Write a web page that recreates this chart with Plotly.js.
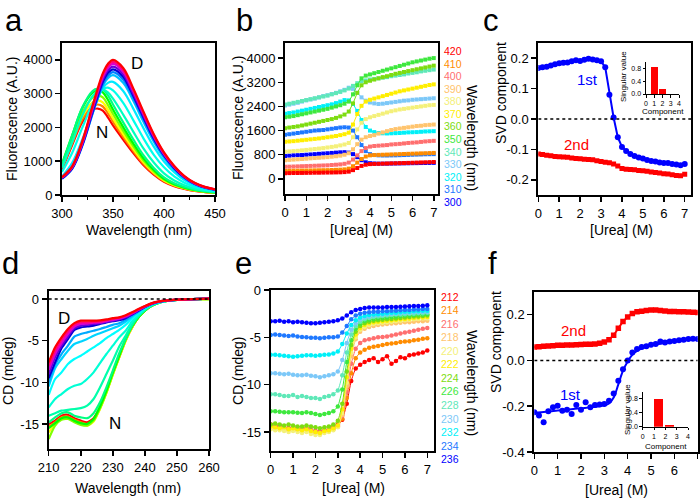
<!DOCTYPE html>
<html><head><meta charset="utf-8">
<script src="https://cdn.plot.ly/plotly-3.0.1.min.js"></script>
<style>html,body{margin:0;padding:0;background:#fff}#chart{width:700px;height:499px}</style>
</head><body><div id="chart"></div><script>
// ---------- Panel a: fluorescence spectra ----------
const aWavelengths = [300,310,320,330,335,340,345,350,360,370,380,390,400,410,420,430,440,450];
const aUrea = [0,0.6,1.2,1.8,2.4,3.0,3.3,3.5,3.7,3.9,4.2,4.8,5.4,6.0,6.6,7.2];
const aSpectra = [
 [750,1480,2160,2520,2560,2500,2300,2060,1640,1240,880,600,390,260,180,120,85,60],
 [790,1540,2240,2620,2680,2620,2420,2170,1720,1300,920,630,410,275,190,128,90,63],
 [830,1600,2330,2740,2800,2740,2530,2270,1800,1360,965,660,430,290,200,135,95,66],
 [870,1680,2450,2880,2950,2890,2670,2400,1900,1440,1020,700,455,305,210,142,100,70],
 [920,1770,2580,3030,3100,3040,2820,2530,2010,1520,1080,740,480,320,220,150,105,74],
 [900,1760,2600,3080,3150,3120,2950,2680,2150,1640,1170,800,520,345,235,160,112,78],
 [810,1560,2360,2930,3070,3130,3040,2850,2380,1870,1370,960,640,430,290,190,130,92],
 [680,1250,2000,2710,2960,3140,3180,3100,2730,2210,1670,1190,820,550,365,240,160,114],
 [550,950,1650,2480,2850,3160,3320,3350,3080,2550,1970,1430,990,675,440,285,190,136],
 [500,815,1500,2420,2850,3230,3460,3550,3320,2780,2160,1580,1100,750,490,315,210,150],
 [480,775,1460,2410,2870,3280,3530,3640,3420,2870,2240,1640,1150,780,510,330,218,155],
 [490,790,1490,2470,2930,3350,3610,3720,3500,2930,2290,1670,1170,800,520,335,223,158],
 [505,810,1520,2520,2990,3420,3690,3800,3570,2990,2340,1710,1200,820,530,340,228,162],
 [515,825,1550,2570,3060,3490,3760,3880,3650,3060,2390,1750,1220,835,545,350,233,165],
 [520,840,1580,2610,3100,3550,3820,3940,3700,3100,2420,1770,1240,850,550,355,236,167],
 [530,850,1600,2650,3150,3600,3880,4000,3760,3150,2460,1800,1260,860,560,360,240,170]
];

// ---------- Panel b: fluorescence vs urea ----------
const urea = [0,0.2,0.4,0.6,0.8,1.0,1.2,1.4,1.6,1.8,2.0,2.2,2.4,2.6,2.8,3.0,3.2,3.4,3.6,3.8,4.0,4.2,4.4,4.6,4.8,5.0,5.2,5.4,5.6,5.8,6.0,6.2,6.4,6.6,6.8,7.0];
const fl420 = [190,192,195,195,198,200,202,205,205,208,210,212,215,218,225,240,290,360,430,470,490,495,500,505,510,515,518,522,525,530,535,540,545,550,555,560];
const fl410 = [265,268,270,272,275,278,280,283,285,288,290,295,300,305,315,340,420,540,660,740,780,790,795,800,805,810,815,820,825,830,835,840,845,850,855,860];
const fl400 = [400,405,410,415,420,425,430,435,440,445,450,460,470,480,500,540,640,780,920,1020,1070,1090,1100,1110,1120,1140,1150,1160,1175,1190,1200,1210,1225,1240,1250,1260];
const fl390 = [620,630,640,650,660,670,680,690,700,710,720,735,750,770,800,850,980,1150,1300,1380,1420,1450,1500,1540,1580,1620,1650,1670,1690,1710,1730,1750,1760,1780,1790,1800];
const fl380 = [900,910,920,930,945,960,975,990,1005,1020,1040,1060,1080,1110,1140,1190,1380,1640,1860,1980,2040,2080,2120,2160,2200,2240,2270,2300,2320,2340,2360,2380,2400,2420,2440,2450];
const fl370 = [1230,1240,1250,1265,1280,1295,1310,1325,1340,1360,1380,1400,1420,1450,1480,1530,1800,2150,2420,2560,2620,2660,2700,2740,2780,2820,2860,2900,2930,2960,2990,3020,3050,3080,3110,3130];
const fl360 = [1680,1700,1720,1740,1770,1800,1830,1860,1890,1920,1950,1980,2020,2070,2130,2230,2500,2850,3100,3200,3250,3290,3330,3370,3400,3440,3480,3510,3540,3570,3600,3630,3660,3690,3720,3750];
const fl350 = [2040,2060,2080,2110,2140,2170,2200,2230,2260,2290,2320,2360,2400,2440,2490,2560,2800,3100,3330,3420,3460,3500,3540,3580,3620,3660,3700,3740,3780,3820,3860,3890,3920,3950,3980,4000];
const fl340 = [2460,2490,2520,2550,2580,2610,2640,2670,2700,2730,2760,2800,2840,2880,2930,2990,3080,3170,3230,3260,3290,3310,3330,3350,3370,3400,3420,3440,3460,3490,3510,3530,3560,3580,3600,3620];
const fl330 = [2430,2460,2490,2520,2560,2600,2630,2660,2700,2740,2770,2810,2850,2900,2950,3020,2980,2850,2700,2590,2530,2500,2480,2490,2510,2530,2550,2570,2590,2600,2620,2630,2640,2650,2660,2670];
const fl320 = [2160,2180,2200,2230,2260,2290,2320,2350,2380,2410,2440,2470,2510,2560,2610,2600,2480,2250,1950,1720,1600,1550,1520,1510,1505,1510,1515,1520,1530,1540,1545,1550,1560,1570,1575,1580];
const fl310 = [1460,1480,1500,1520,1540,1560,1580,1600,1610,1620,1640,1660,1680,1700,1710,1700,1600,1380,1120,920,820,790,780,775,775,778,780,785,790,795,800,805,810,815,818,820];
const fl300 = [760,770,780,785,790,800,810,820,830,840,850,860,870,880,885,870,820,720,620,550,520,510,505,505,505,508,510,512,515,517,520,522,525,527,528,530];
const bLabels = ['420','410','400','390','380','370','360','350','340','330','320','310','300'];

// ---------- Panel c: SVD components (fluorescence) ----------
const c1st = [0.168,0.170,0.172,0.176,0.180,0.183,0.185,0.186,0.190,0.193,0.191,0.195,0.198,0.196,0.193,0.190,0.170,0.080,0.005,-0.060,-0.092,-0.105,-0.115,-0.122,-0.127,-0.130,-0.135,-0.138,-0.140,-0.143,-0.145,-0.145,-0.148,-0.150,-0.152,-0.148];
const c2nd = [-0.115,-0.117,-0.119,-0.121,-0.123,-0.124,-0.125,-0.126,-0.128,-0.130,-0.131,-0.132,-0.133,-0.134,-0.137,-0.140,-0.142,-0.144,-0.148,-0.155,-0.163,-0.165,-0.166,-0.167,-0.169,-0.170,-0.172,-0.174,-0.176,-0.178,-0.180,-0.181,-0.183,-0.186,-0.187,-0.182];
const components = [1,2,3,4];
const cSingular = [0.83,0.16,0.01,0.005];

// ---------- Panel d: CD spectra ----------
const dWavelengths = [210,212,214,216,218,220,222,224,226,228,230,232,234,236,238,240,242,244,246,248,250,255,260];
const dUrea = [0,0.6,1.2,1.8,2.4,3.0,3.2,3.4,3.6,3.8,4.0,4.8,5.4,6.0,6.6,7.2];
const dSpectra = [
 [-15.0,-14.6,-14.0,-13.9,-14.3,-14.6,-14.8,-14.3,-13.0,-11.1,-8.9,-6.9,-4.9,-3.4,-2.2,-1.4,-0.85,-0.5,-0.3,-0.18,-0.1,0.0,0.1],
 [-15.3,-14.8,-14.2,-14.1,-14.5,-14.8,-15.0,-14.5,-13.1,-11.2,-9.0,-7.0,-5.0,-3.4,-2.2,-1.4,-0.85,-0.5,-0.3,-0.18,-0.1,0.0,0.05],
 [-16.0,-15.0,-14.4,-14.3,-14.7,-15.0,-15.2,-14.7,-13.2,-11.3,-9.1,-7.0,-5.0,-3.4,-2.2,-1.4,-0.85,-0.5,-0.3,-0.18,-0.1,-0.05,0.0],
 [-16.8,-15.2,-14.5,-14.4,-14.8,-15.1,-15.2,-14.6,-13.1,-11.2,-9.0,-6.9,-4.9,-3.3,-2.2,-1.4,-0.85,-0.5,-0.3,-0.18,-0.1,-0.05,-0.05],
 [-15.5,-14.9,-14.3,-14.2,-14.6,-14.9,-15.0,-14.4,-12.9,-11.0,-8.8,-6.8,-4.8,-3.3,-2.2,-1.4,-0.85,-0.5,-0.3,-0.18,-0.1,0.0,0.05],
 [-14.8,-14.2,-13.7,-13.6,-14.0,-14.2,-14.3,-13.7,-12.4,-10.6,-8.6,-6.5,-4.8,-3.2,-2.1,-1.35,-0.8,-0.5,-0.3,-0.18,-0.1,0.0,0.05],
 [-14.0,-13.7,-13.4,-13.3,-13.2,-13.1,-12.8,-12.0,-10.6,-9.0,-7.4,-5.7,-4.4,-3.0,-2.0,-1.3,-0.8,-0.5,-0.3,-0.18,-0.1,0.0,0.05],
 [-13.0,-12.0,-11.4,-10.8,-10.4,-10.2,-9.6,-8.8,-7.7,-6.6,-5.6,-4.6,-3.8,-2.7,-1.9,-1.2,-0.75,-0.45,-0.28,-0.17,-0.1,0.0,0.05],
 [-11.5,-9.6,-8.8,-7.8,-7.2,-6.8,-6.3,-5.8,-5.3,-4.7,-4.2,-3.7,-3.1,-2.35,-1.7,-1.1,-0.7,-0.42,-0.26,-0.16,-0.1,0.0,0.05],
 [-10.5,-8.3,-7.2,-6.2,-5.4,-5.1,-4.8,-4.4,-4.1,-3.8,-3.5,-3.2,-2.7,-2.1,-1.55,-1.0,-0.65,-0.4,-0.25,-0.15,-0.1,0.0,0.05],
 [-10.0,-7.9,-6.6,-5.6,-4.5,-4.2,-4.0,-3.8,-3.6,-3.35,-3.1,-2.9,-2.5,-2.0,-1.5,-1.0,-0.62,-0.38,-0.24,-0.15,-0.1,0.0,0.05],
 [-9.5,-7.6,-5.9,-4.8,-3.7,-3.4,-3.3,-3.2,-3.0,-2.8,-2.65,-2.55,-2.3,-1.85,-1.4,-0.95,-0.6,-0.36,-0.22,-0.14,-0.1,0.0,0.05],
 [-9.0,-7.0,-5.6,-4.5,-3.5,-3.2,-3.1,-3.0,-2.9,-2.75,-2.6,-2.45,-2.2,-1.8,-1.35,-0.92,-0.58,-0.35,-0.22,-0.14,-0.1,0.0,0.05],
 [-8.5,-6.6,-5.3,-4.2,-3.3,-3.0,-2.95,-2.85,-2.8,-2.65,-2.5,-2.35,-2.1,-1.72,-1.3,-0.9,-0.56,-0.34,-0.21,-0.13,-0.1,0.0,0.05],
 [-8.0,-6.2,-4.9,-3.9,-3.1,-2.8,-2.8,-2.75,-2.7,-2.55,-2.4,-2.25,-2.0,-1.65,-1.25,-0.88,-0.55,-0.33,-0.2,-0.13,-0.1,0.0,0.05],
 [-7.6,-5.8,-4.6,-3.6,-2.9,-2.6,-2.6,-2.6,-2.55,-2.45,-2.3,-2.2,-1.95,-1.6,-1.2,-0.85,-0.52,-0.32,-0.2,-0.12,-0.08,0.0,0.05]
];

// ---------- Panel e: CD vs urea ----------
const cd236 = [-3.3,-3.3,-3.25,-3.35,-3.3,-3.4,-3.35,-3.4,-3.45,-3.5,-3.5,-3.45,-3.4,-3.35,-3.3,-3.2,-3.0,-2.7,-2.35,-2.1,-2.0,-1.9,-1.85,-1.85,-1.85,-1.85,-1.8,-1.8,-1.8,-1.78,-1.75,-1.72,-1.7,-1.68,-1.65,-1.6];
const cd234 = [-4.75,-4.7,-4.75,-4.8,-4.85,-4.8,-4.9,-4.95,-5.0,-5.05,-5.05,-5.1,-5.05,-5.0,-5.0,-4.9,-4.5,-3.8,-3.1,-2.7,-2.5,-2.4,-2.35,-2.3,-2.3,-2.25,-2.25,-2.2,-2.2,-2.15,-2.1,-2.1,-2.05,-2.05,-2.0,-2.0];
const cd232 = [-6.85,-6.85,-6.9,-6.95,-7.0,-7.05,-7.0,-6.95,-6.9,-6.9,-6.95,-6.9,-6.85,-6.8,-6.7,-6.5,-5.7,-4.6,-3.7,-3.2,-2.9,-2.75,-2.65,-2.6,-2.55,-2.5,-2.45,-2.4,-2.4,-2.35,-2.3,-2.3,-2.25,-2.25,-2.2,-2.2];
const cd230 = [-8.8,-8.8,-8.85,-8.9,-8.85,-8.95,-9.0,-9.0,-8.95,-9.05,-9.1,-9.2,-9.1,-9.0,-8.9,-8.6,-7.4,-5.6,-4.2,-3.5,-3.1,-2.9,-2.8,-2.7,-2.65,-2.6,-2.55,-2.5,-2.5,-2.45,-2.4,-2.4,-2.35,-2.35,-2.3,-2.3];
const cd228 = [-11.0,-11.0,-11.1,-11.2,-11.2,-11.1,-11.3,-11.2,-11.3,-11.4,-11.4,-11.5,-11.3,-11.2,-11.0,-10.6,-9.0,-6.6,-4.7,-3.8,-3.35,-3.1,-2.95,-2.85,-2.8,-2.75,-2.7,-2.65,-2.6,-2.6,-2.55,-2.5,-2.5,-2.45,-2.45,-2.4];
const cd226 = [-12.8,-12.8,-12.85,-12.9,-12.9,-12.9,-12.95,-13.0,-12.9,-13.0,-13.1,-13.2,-13.1,-13.0,-12.8,-12.3,-10.5,-7.6,-5.3,-4.1,-3.6,-3.3,-3.15,-3.05,-3.0,-2.95,-2.9,-2.85,-2.8,-2.75,-2.7,-2.7,-2.65,-2.6,-2.6,-2.55];
const cd224 = [-14.2,-14.1,-14.2,-14.3,-14.2,-14.3,-14.4,-14.4,-14.3,-14.4,-14.5,-14.6,-14.5,-14.4,-14.2,-13.8,-12.0,-8.6,-5.8,-4.4,-3.8,-3.5,-3.35,-3.25,-3.2,-3.15,-3.1,-3.05,-3.0,-2.95,-2.9,-2.85,-2.8,-2.8,-2.75,-2.7];
const cd222 = [-14.4,-14.5,-14.6,-14.5,-14.7,-14.6,-14.7,-14.8,-14.7,-14.9,-15.0,-15.1,-14.9,-14.8,-14.6,-14.3,-12.6,-9.2,-6.2,-4.7,-4.0,-3.7,-3.5,-3.4,-3.35,-3.3,-3.25,-3.2,-3.15,-3.1,-3.05,-3.0,-2.95,-2.9,-2.9,-2.85];
const cd220 = [-14.7,-14.8,-14.8,-14.9,-15.0,-14.9,-15.0,-15.1,-15.0,-15.2,-15.3,-15.3,-15.1,-15.0,-14.8,-14.5,-13.0,-9.8,-6.6,-5.0,-4.2,-3.9,-3.7,-3.6,-3.5,-3.45,-3.4,-3.35,-3.3,-3.25,-3.2,-3.15,-3.1,-3.05,-3.0,-3.0];
const cd218 = [-14.5,-14.6,-14.6,-14.7,-14.8,-14.7,-14.8,-14.9,-14.8,-15.0,-15.1,-15.2,-15.0,-14.9,-14.7,-14.4,-13.2,-10.2,-7.0,-5.2,-4.4,-4.1,-3.9,-3.8,-3.7,-3.65,-3.6,-3.55,-3.5,-3.45,-3.4,-3.4,-3.35,-3.3,-3.3,-3.25];
const cd216 = [-14.3,-14.4,-14.3,-14.5,-14.6,-14.5,-14.6,-14.7,-14.6,-14.8,-14.9,-15.0,-14.8,-14.7,-14.6,-14.3,-13.3,-10.8,-7.8,-6.2,-5.6,-5.3,-5.2,-5.1,-5.0,-4.95,-4.9,-4.8,-4.7,-4.6,-4.5,-4.4,-4.3,-4.2,-4.1,-4.0];
const cd214 = [-14.4,-14.5,-14.4,-14.6,-14.7,-14.6,-14.7,-14.8,-14.7,-14.9,-15.0,-15.1,-14.9,-14.8,-14.7,-14.4,-13.6,-11.4,-8.8,-7.2,-6.6,-6.3,-6.1,-6.0,-5.9,-5.8,-5.7,-5.65,-5.6,-5.5,-5.45,-5.4,-5.3,-5.25,-5.15,-5.1];
const cd212 = [-14.2,-14.4,-14.3,-14.5,-14.6,-14.5,-14.7,-14.8,-14.6,-14.8,-14.9,-15.0,-14.8,-14.7,-14.5,-14.2,-13.7,-12.0,-9.6,-8.3,-7.9,-7.6,-7.4,-7.2,-7.6,-7.3,-7.0,-7.8,-7.5,-7.1,-7.2,-6.9,-6.8,-6.7,-6.6,-6.4];
const eLabels = ['212','214','216','218','220','222','224','226','228','230','232','234','236'];

// ---------- Panel f: SVD components (CD) ----------
const f1st = [-0.226,-0.241,-0.270,-0.222,-0.205,-0.198,-0.220,-0.216,-0.234,-0.195,-0.216,-0.183,-0.205,-0.195,-0.193,-0.190,-0.176,-0.144,-0.089,-0.039,0.000,0.035,0.050,0.058,0.062,0.068,0.072,0.082,0.078,0.083,0.085,0.088,0.090,0.093,0.095,0.093];
const f2nd = [0.058,0.060,0.062,0.063,0.064,0.066,0.066,0.067,0.067,0.068,0.069,0.070,0.071,0.072,0.075,0.080,0.090,0.110,0.140,0.170,0.190,0.205,0.212,0.215,0.218,0.220,0.220,0.218,0.216,0.214,0.213,0.212,0.212,0.211,0.210,0.209];
const fFitUrea = [0,0.5,1,1.5,2,2.5,3,3.2,3.4,3.6,3.8,4.0,4.2,4.5,5,5.5,6,6.5,7];
const fFit1st = [-0.228,-0.224,-0.219,-0.214,-0.209,-0.204,-0.196,-0.188,-0.162,-0.105,-0.045,-0.005,0.025,0.047,0.065,0.075,0.083,0.089,0.095];
const fSingular = [0.79,0.06,0.005,0.003];

// ---------- tick labels ----------
const svdCTicks = [-0.2,-0.1,0,0.1,0.2], svdCText = ['-0.2','-0.1','0.0','0.1','0.2'];
const svdFTicks = [-0.4,-0.2,0,0.2], svdFText = ['-0.4','-0.2','0.0','0.2'];
const cdTicks = [0,-5,-10,-15], cdText = ['0','-5','-10','-15'];
const insetTicks = [0,0.4,0.8], insetText = ['0.0','0.4','0.8'];

// ================= drawing =================
const FONT = '"Liberation Sans", Arial, sans-serif';
const W = 700, H = 499;
const px = x => x / W, py = y => 1 - y / H;
const hue = u => 'hsl(' + Math.round(u / 7.2 * 360) % 360 + ',100%,' + (u > 4.5 && u < 6.2 ? 42 : 50) + '%)';

const bColors = {'420':'#ff0000','410':'#ff8c00','400':'#ff6f6f','390':'#ffc46e','380':'#f4f07a','370':'#ffee00','360':'#7ddc10','350':'#3ee83e','340':'#5fe8b8','330':'#7cc8f8','320':'#00f0f8','310':'#1e78ff','300':'#0000ff'};
const bData = {'420':fl420,'410':fl410,'400':fl400,'390':fl390,'380':fl380,'370':fl370,'360':fl360,'350':fl350,'340':fl340,'330':fl330,'320':fl320,'310':fl310,'300':fl300};
const eColors = {'212':'#ff0000','214':'#ff8c00','216':'#ff6f6f','218':'#ffc46e','220':'#f4f07a','222':'#ffee00','224':'#7ddc10','226':'#3ee83e','228':'#5fe8b8','230':'#7cc8f8','232':'#00f0f8','234':'#1e78ff','236':'#0000ff'};
const eData = {'212':cd212,'214':cd214,'216':cd216,'218':cd218,'220':cd220,'222':cd222,'224':cd224,'226':cd226,'228':cd228,'230':cd230,'232':cd232,'234':cd234,'236':cd236};

const traces = [];
aSpectra.forEach((s, i) => traces.push({x: aWavelengths, y: s, xaxis:'x', yaxis:'y', mode:'lines', line:{color:hue(aUrea[i]), width:2.2, shape:'spline', smoothing:1}, hoverinfo:'skip'}));
bLabels.slice().reverse().forEach(k => traces.push({x: urea, y: bData[k], xaxis:'x2', yaxis:'y2', mode:'lines+markers', line:{color:bColors[k], width:1}, marker:{symbol:'square', size:4, color:bColors[k]}}));
traces.push({x: urea, y: c2nd, xaxis:'x3', yaxis:'y3', mode:'lines+markers', line:{color:'#ff0000', width:2}, marker:{symbol:'square', size:5, color:'#ff0000'}});
traces.push({x: urea, y: c1st, xaxis:'x3', yaxis:'y3', mode:'lines+markers', line:{color:'#0000ff', width:2}, marker:{symbol:'circle', size:6, color:'#0000ff'}});
traces.push({x: components, y: cSingular, xaxis:'x4', yaxis:'y4', type:'bar', width:0.85, marker:{color:'#ff0000', line:{width:0}}});
dSpectra.forEach((s, i) => traces.push({x: dWavelengths, y: s, xaxis:'x5', yaxis:'y5', mode:'lines', line:{color:hue(dUrea[i]), width:2.2, shape:'spline', smoothing:0.6}}));
eLabels.forEach(k => traces.push({x: urea, y: eData[k], xaxis:'x6', yaxis:'y6', mode:'lines+markers', line:{color:eColors[k], width:1, shape:'spline', smoothing:0.5}, marker:{symbol:'circle', size:4.5, color:eColors[k]}}));
traces.push({x: urea, y: f2nd, xaxis:'x7', yaxis:'y7', mode:'lines+markers', line:{color:'#ff0000', width:2}, marker:{symbol:'square', size:5.5, color:'#ff0000'}});
traces.push({x: fFitUrea, y: fFit1st, xaxis:'x7', yaxis:'y7', mode:'lines', line:{color:'#0000ff', width:2, shape:'spline'}});
traces.push({x: urea, y: f1st, xaxis:'x7', yaxis:'y7', mode:'markers', marker:{symbol:'circle', size:6, color:'#0000ff'}});
traces.push({x: components, y: fSingular, xaxis:'x8', yaxis:'y8', type:'bar', width:0.75, offset:0, marker:{color:'#ff0000', line:{width:0}}});

function axis(domain, range, anchor, extra) {
  return Object.assign({domain, range, anchor, showline:true, linecolor:'#000', linewidth:2, mirror:true,
    ticks:'outside', ticklen:5, tickwidth:1.5, tickcolor:'#000', showgrid:false, zeroline:false,
    tickfont:{size:13, color:'#000', family:FONT}, fixedrange:true}, extra || {});
}
function inset(domain, range, anchor, extra) {
  return Object.assign({domain, range, anchor, showline:true, linecolor:'#000', linewidth:1, mirror:false,
    ticks:'outside', ticklen:2.5, tickwidth:1, tickcolor:'#000', showgrid:false, zeroline:false,
    tickfont:{size:7, color:'#000', family:FONT}, fixedrange:true}, extra || {});
}
const dom = (a, b) => [a / W, b / W];
const domY = (top, bot) => [1 - bot / H, 1 - top / H];

const layout = {
  width: W, height: H, margin:{l:0, r:0, t:0, b:0}, showlegend:false,
  paper_bgcolor:'#fff', plot_bgcolor:'rgba(0,0,0,0)', font:{family:FONT, color:'#000'}, bargap:0,
  xaxis:  axis(dom(62,215), [300,450], 'y', {tickvals:[300,350,400,450], minor:{tickvals:[325,375,425], ticklen:3, tickwidth:1.5, ticks:'outside', tickcolor:'#000'}}),
  yaxis:  axis(domY(43,195), [0,4500], 'x', {tickvals:[0,1000,2000,3000,4000]}),
  xaxis2: axis(dom(285,438), [0,7.2], 'y2', {tickvals:[0,1,2,3,4,5,6,7]}),
  yaxis2: axis(domY(43,194), [-500,4500], 'x2', {tickvals:[0,800,1600,2400,3200,4000]}),
  xaxis3: axis(dom(538.3,691), [0,7.3], 'y3', {tickvals:[0,1,2,3,4,5,6,7]}),
  yaxis3: axis(domY(43,195), [-0.25,0.25], 'x3', {tickvals:svdCTicks, ticktext:svdCText}),
  xaxis4: inset(dom(646,679), [0,4], 'y4', {tickvals:[0,1,2,3,4], tickangle:0}),
  yaxis4: inset(domY(62,94), [0,1], 'x4', {tickvals:insetTicks, ticktext:insetText}),
  xaxis5: axis(dom(48.7,209), [210,260], 'y5', {tickvals:[210,220,230,240,250,260]}),
  yaxis5: axis(domY(290.7,449), [-18,1], 'x5', {tickvals:cdTicks, ticktext:cdText}),
  xaxis6: axis(dom(270.7,434), [0,7.3], 'y6', {tickvals:[0,1,2,3,4,5,6,7]}),
  yaxis6: axis(domY(290,451), [-17,0], 'x6', {tickvals:cdTicks, ticktext:cdText}),
  xaxis7: axis(dom(534.3,697.7), [0,7], 'y7', {tickvals:[0,1,2,3,4,5,6,7]}),
  yaxis7: axis(domY(291.7,452), [-0.4,0.3], 'x7', {tickvals:svdFTicks, ticktext:svdFText}),
  xaxis8: inset(dom(642.7,688), [0,4], 'y8', {tickvals:[0,1,2,3,4], tickangle:0}),
  yaxis8: inset(domY(391.7,426.7), [0,1], 'x8', {tickvals:insetTicks, ticktext:insetText}),
  shapes: [
    {type:'line', xref:'x3', yref:'y3', x0:0, x1:7.3, y0:0, y1:0, line:{color:'#000', width:1.5, dash:'dot'}},
    {type:'line', xref:'x5', yref:'y5', x0:210, x1:260, y0:0, y1:0, line:{color:'#000', width:1.5, dash:'dot'}},
    {type:'line', xref:'x7', yref:'y7', x0:0, x1:7, y0:0, y1:0, line:{color:'#000', width:1.5, dash:'dot'}}
  ],
  annotations: []
};

const ann = layout.annotations;
function txt(text, x, y, size, opts) {
  ann.push(Object.assign({text, x:px(x), y:py(y), xref:'paper', yref:'paper', showarrow:false,
    xanchor:'center', yanchor:'middle', font:{size, color:'#000', family:FONT}}, opts || {}));
}
// panel letters (top-anchored so they stay inside the page)
[['a',14,1],['b',244,1],['c',491,1],['d',10,244],['e',243,244],['f',492,244]].forEach(([t,x,y]) =>
  txt(t, x, y, 31, {yanchor:'top', font:{size:31, color:'#000', family:FONT}}));
// axis titles
txt('Wavelength (nm)', 138.5, 230, 14);
txt('Fluorescence (A.U.)', 12, 119, 14, {textangle:-90});
txt('[Urea] (M)', 361.5, 230, 14);
txt('Fluorescence (A.U.)', 238, 118, 14, {textangle:-90});
txt('Wavelength (nm)', 472, 138, 14, {textangle:90});
txt('[Urea] (M)', 621.7, 230, 14);
txt('SVD component', 501, 93, 14, {textangle:-90});
txt('Wavelength (nm)', 128.3, 488, 14);
txt('CD (mdeg)', 8, 371, 14, {textangle:-90});
txt('[Urea] (M)', 353.3, 488, 14);
txt('CD (mdeg)', 238, 371, 14, {textangle:-90});
txt('Wavelength (nm)', 472, 383, 14, {textangle:90});
txt('[Urea] (M)', 616.7, 490, 14);
txt('SVD component', 496, 342, 14, {textangle:-90});
// inset titles
txt('Singular value', 623, 77, 8, {textangle:-90});
txt('Component', 662.5, 111, 8);
txt('Singular value', 627, 410, 8, {textangle:-90});
txt('Component', 665.5, 446, 8);
// wavelength legends
bLabels.forEach((k, i) => txt(k, 453, 51 + i * 12.58, 10.5, {font:{size:10.5, color:bColors[k], family:FONT}}));
eLabels.forEach((k, i) => txt(k, 450, 296.7 + i * 13.54, 10.5, {font:{size:10.5, color:eColors[k], family:FONT}}));
// state labels
txt('D', 136.7, 63, 17);
txt('N', 102.3, 132, 17);
txt('D', 64, 318, 17);
txt('N', 115, 423, 17);
txt('1st', 587, 80, 15, {font:{size:15, color:'#0000ff', family:FONT}});
txt('2nd', 576, 145, 15, {font:{size:15, color:'#ff0000', family:FONT}});
txt('2nd', 573, 330, 15, {font:{size:15, color:'#ff0000', family:FONT}});
txt('1st', 570, 394, 15, {font:{size:15, color:'#0000ff', family:FONT}});

Plotly.newPlot('chart', traces, layout, {staticPlot:true, displayModeBar:false});
</script></body></html>
